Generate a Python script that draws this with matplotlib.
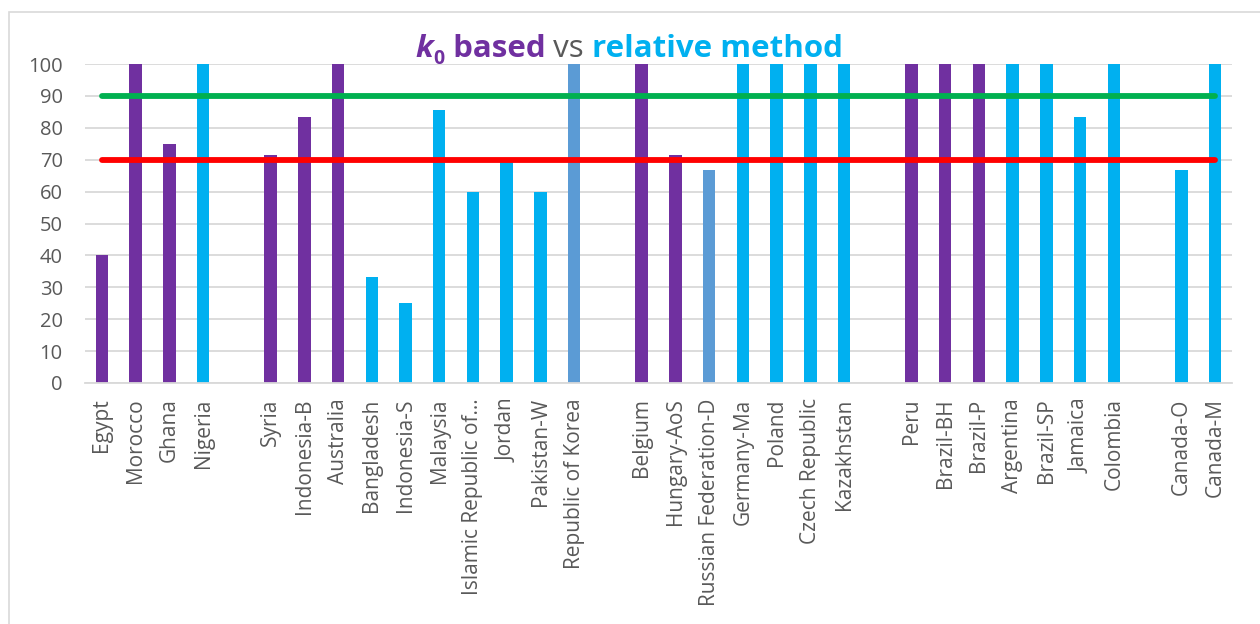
import numpy as np
import matplotlib
matplotlib.use('Agg')
import matplotlib.pyplot as plt
from matplotlib.patches import Rectangle

plt.rcParams['font.family'] = ['Open Sans', 'DejaVu Sans']

# '' marks an empty slot between groups
countries = ['Egypt', 'Morocco', 'Ghana', 'Nigeria', '',
             'Syria', 'Indonesia-B', 'Australia', 'Bangladesh', 'Indonesia-S',
             'Malaysia', 'Islamic Republic of\u2026', 'Jordan', 'Pakistan-W', 'Republic of Korea', '',
             'Belgium', 'Hungary-AoS', 'Russian Federation-D', 'Germany-Ma', 'Poland',
             'Czech Republic', 'Kazakhstan', '',
             'Peru', 'Brazil-BH', 'Brazil-P', 'Argentina', 'Brazil-SP', 'Jamaica', 'Colombia', '',
             'Canada-O', 'Canada-M']
values = [40, 100, 75, 100, np.nan,
          71.4, 83.3, 100, 33.3, 25,
          85.7, 60, 69.2, 60, 100, np.nan,
          100, 71.4, 66.7, 100, 100,
          100, 100, np.nan,
          100, 100, 100, 100, 100, 83.3, 100, np.nan,
          66.7, 100]
# k = k0 based, r = relative method, m = mixed
method = ['k', 'k', 'k', 'r', '',
          'k', 'k', 'k', 'r', 'r',
          'r', 'r', 'r', 'r', 'm', '',
          'k', 'k', 'm', 'r', 'r',
          'r', 'r', '',
          'k', 'k', 'k', 'r', 'r', 'r', 'r', '',
          'r', 'r']
upper_limit = 90
lower_limit = 70

PURPLE = '#7030A0'
CYAN = '#00B0F0'
STEEL = '#5B9BD5'
colmap = {'k': PURPLE, 'r': CYAN, 'm': STEEL, '': 'none'}

W, H = 1260, 624
fig = plt.figure(figsize=(W/100, H/100), dpi=100)
fig.patches.append(Rectangle((9/W, -0.1), 1.2, 1.1 - 12/H, transform=fig.transFigure,
                             fill=False, edgecolor='#D9D9D9', linewidth=1.2))
ax = fig.add_axes([85/W, 1 - 383/H, (1232 - 85)/W, (383 - 64)/H])

x = np.arange(len(countries))
ax.bar(x, values, width=0.37, color=[colmap[m] for m in method], zorder=2)

first, last = x[0], x[-1]
ax.plot([first, last], [upper_limit, upper_limit], color='#00B050', lw=4.2,
        solid_capstyle='round', zorder=3)
ax.plot([first, last], [lower_limit, lower_limit], color='#FF0000', lw=4.2,
        solid_capstyle='round', zorder=3)

ax.set_xlim(-0.5, len(countries) - 0.5)
ax.set_ylim(0, 100)
ax.set_yticks(range(0, 101, 10))
ax.grid(axis='y', color='#D9D9D9', lw=1.3, zorder=0)
ax.set_axisbelow(True)
for s in ['top', 'right', 'left']:
    ax.spines[s].set_visible(False)
ax.spines['bottom'].set_color('#D9D9D9')
ax.spines['bottom'].set_linewidth(1.3)

ax.set_xticks(x)
ax.set_xticklabels(countries, rotation=90, fontsize=15, color='#595959')
ax.tick_params(axis='x', length=0, pad=11)
ax.tick_params(axis='y', length=0, pad=16, labelsize=14.5, labelcolor='#595959')

# title in coloured pieces, laid out left to right by measured width
fs = 22.5
pieces = [('k', dict(fontweight='bold', fontstyle='italic', color=PURPLE), 0, fs),
          ('0', dict(fontweight='bold', color=PURPLE), -7, fs * 0.62),
          (' based', dict(fontweight='bold', color=PURPLE), 0, fs),
          (' vs ', dict(color='#595959'), 0, fs),
          ('relative method', dict(fontweight='bold', color=CYAN), 0, fs)]
renderer = fig.canvas.get_renderer()
base_y = H - 57
texts = []
for s, kw, dy, size in pieces:
    t = fig.text(0, (base_y + dy)/H, s, fontsize=size, va='baseline', ha='left', **kw)
    texts.append(t)
widths = [t.get_window_extent(renderer).width for t in texts]
xpos = 629.5 - sum(widths)/2
for t, w in zip(texts, widths):
    t.set_x(xpos/W)
    xpos += w

fig.savefig('out.png', dpi=100)
